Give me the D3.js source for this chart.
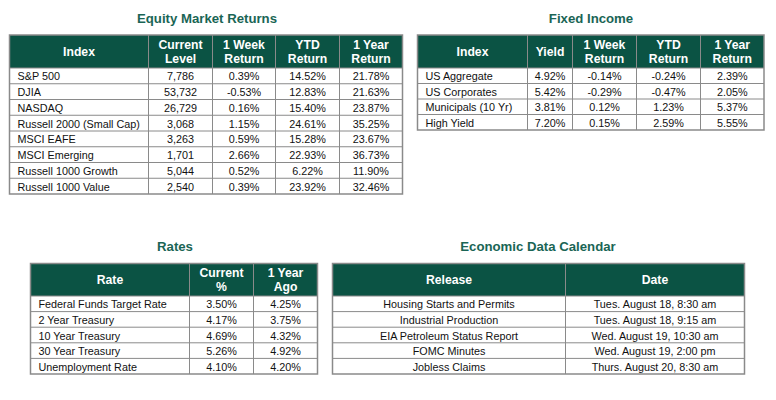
<!DOCTYPE html>
<html>
<head>
<meta charset="utf-8">
<script src="https://cdn.jsdelivr.net/npm/d3@7"></script>
<style>
  html, body { margin: 0; padding: 0; background: #fff; }
  svg text { font-family: "Liberation Sans", Arial, sans-serif; }
</style>
</head>
<body>
<div id="app"></div>
<script>
// ---- data ----
const equityHeaders = ["Index", "Current\nLevel", "1 Week\nReturn", "YTD\nReturn", "1 Year\nReturn"];
const equityNames = ["S&P 500", "DJIA", "NASDAQ", "Russell 2000 (Small Cap)", "MSCI EAFE",
    "MSCI Emerging", "Russell 1000 Growth", "Russell 1000 Value"];
const equityLevel = ["7,786", "53,732", "26,729", "3,068", "3,263", "1,701", "5,044", "2,540"];
const equityWeek = ["0.39%", "-0.53%", "0.16%", "1.15%", "0.59%", "2.66%", "0.52%", "0.39%"];
const equityYtd = ["14.52%", "12.83%", "15.40%", "24.61%", "15.28%", "22.93%", "6.22%", "23.92%"];
const equityYear = ["21.78%", "21.63%", "23.87%", "35.25%", "23.67%", "36.73%", "11.90%", "32.46%"];

const fixedHeaders = ["Index", "Yield", "1 Week\nReturn", "YTD\nReturn", "1 Year\nReturn"];
const fixedNames = ["US Aggregate", "US Corporates", "Municipals (10 Yr)", "High Yield"];
const fixedYield = ["4.92%", "5.42%", "3.81%", "7.20%"];
const fixedWeek = ["-0.14%", "-0.29%", "0.12%", "0.15%"];
const fixedYtd = ["-0.24%", "-0.47%", "1.23%", "2.59%"];
const fixedYear = ["2.39%", "2.05%", "5.37%", "5.55%"];

const ratesHeaders = ["Rate", "Current\n%", "1 Year\nAgo"];
const rateNames = ["Federal Funds Target Rate", "2 Year Treasury", "10 Year Treasury",
    "30 Year Treasury", "Unemployment Rate"];
const rateCurrent = ["3.50%", "4.17%", "4.69%", "5.26%", "4.10%"];
const rateYearAgo = ["4.25%", "3.75%", "4.32%", "4.92%", "4.20%"];

const calendarHeaders = ["Release", "Date"];
const releases = ["Housing Starts and Permits", "Industrial Production", "EIA Petroleum Status Report",
    "FOMC Minutes", "Jobless Claims"];
const releaseDates = ["Tues. August 18, 8:30 am", "Tues. August 18, 9:15 am", "Wed. August 19, 10:30 am",
    "Wed. August 19, 2:00 pm", "Thurs. August 20, 8:30 am"];

// ---- look ----
const headFill = "#0b5344";
const titleColor = "#1a6555";
const lineColor = "#8a8a8a";

const svg = d3.select("#app")
    .append("svg")
    .attr("width", 776)
    .attr("height", 400);

// draws one titled table; columns = array of value arrays, edges = column boundaries
function drawTable(t) {
    const g = svg.append("g");
    const nRows = t.columns[0].length;
    const x0 = t.edges[0], x1 = t.edges[t.edges.length - 1];

    const rowY = d3.scaleBand()
        .domain(d3.range(nRows))
        .range([t.headTop + t.headH, t.bottom]);

    g.append("text")
        .attr("x", t.titleX)
        .attr("y", t.titleY)
        .attr("text-anchor", "middle")
        .attr("dominant-baseline", "central")
        .attr("font-size", 13.2)
        .attr("font-weight", "bold")
        .attr("fill", titleColor)
        .text(t.title);

    // header band
    g.append("rect")
        .attr("x", x0)
        .attr("y", t.headTop)
        .attr("width", x1 - x0)
        .attr("height", t.headH)
        .attr("fill", headFill);

    // header labels
    t.headers.forEach((h, i) => {
        const cx = (t.edges[i] + t.edges[i + 1]) / 2;
        const lines = h.split("\n");
        const mid = t.headTop + t.headH / 2;
        lines.forEach((ln, j) => {
            g.append("text")
                .attr("x", cx)
                .attr("y", mid + (j - (lines.length - 1) / 2) * 14)
                .attr("text-anchor", "middle")
                .attr("dominant-baseline", "central")
                .attr("font-size", 12.2)
                .attr("font-weight", "bold")
                .attr("fill", "#fff")
                .text(ln);
        });
    });

    // row lines
    g.selectAll(".hline")
        .data(d3.range(nRows))
        .enter()
        .append("line")
        .attr("x1", x0)
        .attr("x2", x1)
        .attr("y1", (d) => rowY(d))
        .attr("y2", (d) => rowY(d))
        .attr("stroke", lineColor)
        .attr("stroke-width", 1);

    // column lines
    g.selectAll(".vline")
        .data(t.edges.slice(1, -1))
        .enter()
        .append("line")
        .attr("x1", (d) => d)
        .attr("x2", (d) => d)
        .attr("y1", t.headTop)
        .attr("y2", t.bottom)
        .attr("stroke", lineColor)
        .attr("stroke-width", 1);

    // outer frame
    g.append("rect")
        .attr("x", x0)
        .attr("y", t.headTop)
        .attr("width", x1 - x0)
        .attr("height", t.bottom - t.headTop)
        .attr("fill", "none")
        .attr("stroke", lineColor)
        .attr("stroke-width", 1.5);

    // cells
    t.columns.forEach((col, ci) => {
        const left = ci === 0 && t.firstLeft;
        g.selectAll(".c" + ci)
            .data(col)
            .enter()
            .append("text")
            .attr("x", left ? t.edges[0] + 8 : (t.edges[ci] + t.edges[ci + 1]) / 2)
            .attr("y", (d, i) => rowY(i) + rowY.bandwidth() / 2 + 0.5)
            .attr("text-anchor", left ? "start" : "middle")
            .attr("dominant-baseline", "central")
            .attr("font-size", 10.8)
            .attr("fill", "#111")
            .text((d) => d);
    });
}

drawTable({
    title: "Equity Market Returns", titleX: 207, titleY: 18,
    headers: equityHeaders,
    columns: [equityNames, equityLevel, equityWeek, equityYtd, equityYear],
    edges: [9.5, 148.5, 212.5, 275.5, 339.5, 402.5],
    headTop: 35, headH: 33, bottom: 194, firstLeft: true
});

drawTable({
    title: "Fixed Income", titleX: 591, titleY: 18,
    headers: fixedHeaders,
    columns: [fixedNames, fixedYield, fixedWeek, fixedYtd, fixedYear],
    edges: [417.5, 527.5, 572.5, 636.5, 700.5, 764],
    headTop: 35, headH: 33, bottom: 130, firstLeft: true
});

drawTable({
    title: "Rates", titleX: 175, titleY: 246,
    headers: ratesHeaders,
    columns: [rateNames, rateCurrent, rateYearAgo],
    edges: [30.5, 189.5, 253.5, 317.5],
    headTop: 263.5, headH: 32.5, bottom: 374, firstLeft: true
});

drawTable({
    title: "Economic Data Calendar", titleX: 538, titleY: 246,
    headers: calendarHeaders,
    columns: [releases, releaseDates],
    edges: [332.5, 565.5, 744.5],
    headTop: 263.5, headH: 32.5, bottom: 374, firstLeft: false
});
</script>
</body>
</html>
